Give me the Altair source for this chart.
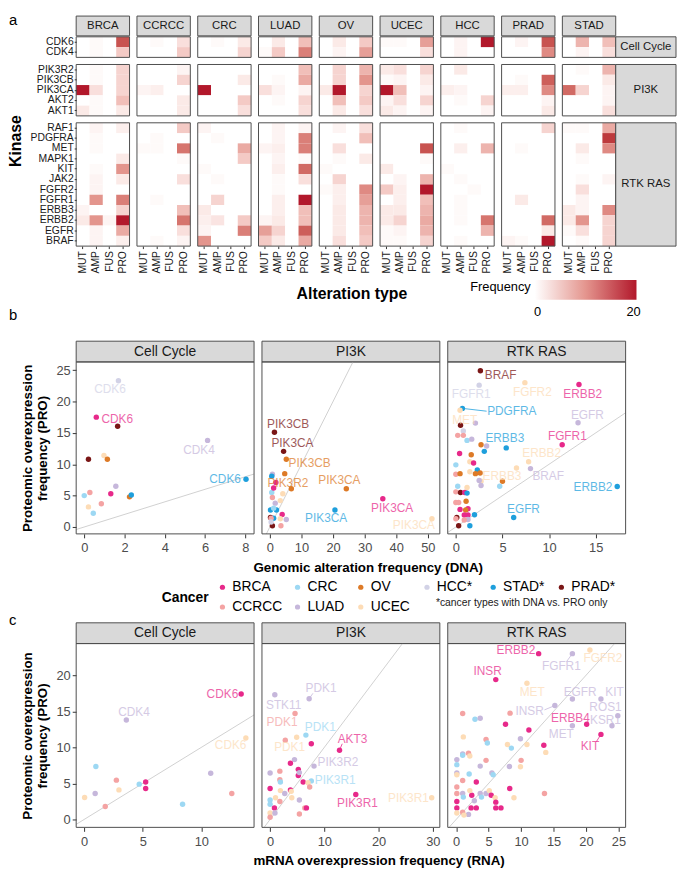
import altair as alt
import pandas as pd

# ------------------------------------------------------------------ data
CANCERS = ["BRCA", "CCRCC", "CRC", "LUAD", "OV", "UCEC", "HCC", "PRAD", "STAD"]
TYPES = ["MUT", "AMP", "FUS", "PRO"]
GENES_CELL = ["CDK6", "CDK4"]
GENES_PI3K = ["PIK3R2", "PIK3CB", "PIK3CA", "AKT2", "AKT1"]
GENES_RTK = ["RAF1", "PDGFRA", "MET", "MAPK1", "KIT", "JAK2", "FGFR2", "FGFR1",
             "ERBB3", "ERBB2", "EGFR", "BRAF"]
NA = None

# rows follow GENES_CELL + GENES_PI3K + GENES_RTK, columns MUT, AMP, FUS, PRO
BRCA_HEAT = [[0, .5, 0, 16], [0, .5, 0, 5],
             [0, .5, 0, 4], [0, .5, 0, 4], [20, 3, 0, 4], [0, .5, 0, 6], [2, .5, 0, 2],
             [0, 1, 0, 1.5], [0, .5, 0, NA], [0, .5, 0, NA], [0, 0, 0, 2], [0, .5, 0, 10], [0, 1, 0, 2],
             [0, 1, 0, NA], [0, 10, 0, 12], [1, 0, 0, 4], [2, 10, 1, 20], [0, 1, 0, 8], [0, 1, 0, 1.5]]
CCRCC_HEAT = [[0, .5, 0, 3], [0, 0, 0, 5],
              [0, 0, 0, 1], [0, 0, 0, 4], [1, 1.5, 0, 0], [0, 0, 0, 2], [0, 0, 0, 2],
              [0, 0, 0, 5], [0, .5, 0, NA], [.5, .5, 0, 13], [0, 0, 0, .5], [0, 0, 0, NA], [0, 0, 0, 3],
              [0, 0, 0, NA], [0, .5, 0, NA], [0, 0, 0, 6], [0, 0, 0, 13], [0, 0, 0, 3], [0, .5, 0, 1]]
CRC_HEAT = [[0, .5, 0, 2], [0, 0, 0, 4],
            [0, 0, 0, NA], [0, 0, 0, 2], [20, 0, 0, NA], [0, 0, 0, 5], [0, 0, 0, 3],
            [1, 0, 0, NA], [0, .5, 0, NA], [0, 0, 0, 8], [0, 0, 0, 5], [.5, 0, 0, NA], [0, .5, 0, NA],
            [0, 0, 0, NA], [0, 4, 0, NA], [2, 0, 0, NA], [1.5, 2.5, 0, 5], [1, 0, 0, 12], [10, 0, 0, NA]]
LUAD_HEAT = [[0, 2, 0, 6], [.5, 5, 0, 12],
             [0, 0, 0, 6], [0, .5, 0, 8], [3, 1, 0, 1], [0, .5, 0, 4], [0, 0, 0, 3],
             [0, 1, 0, 1], [0, 1, 0, 12], [1, 1.5, 0, 12], [0, 1, 0, .5], [0, 1.5, 0, 14], [0, .5, 0, 3],
             [0, .5, 0, NA], [0, 1.5, 0, 20], [0, 1.5, 0, 6], [1, 2, 0, 6], [9, 4, 0, 15], [5, 2, 0, 8]]
OV_HEAT = [[0, 2, 0, 5], [0, 1, 0, 9],
           [0, 4, 0, 7], [0, 4, 0, 10], [2, 20, 0, 4], [0, 6, 0, 5], [0, 2, 0, 3],
           [0, 1, 0, 3], [0, 0, 0, 6], [0, 3, 0, NA], [0, .5, 0, 2], [.5, 0, 0, NA], [0, 4, 0, NA],
           [.5, 1.5, 0, 11], [0, 1.5, 0, 9], [0, 2, 0, 7], [0, 2, 0, 7], [0, 2, 0, 6], [0, 3, 0, 5]]
UCEC_HEAT = [[.5, .5, 0, 9], [0, 0, 0, 3],
             [2, 3, 0, 4], [.5, 1, 0, 2], [20, 6, 0, 1], [1, 3, 0, 4], [2, 1, 0, 1],
             [0, 0, 0, 0], [0, 0, 0, NA], [0, 0, 0, 16], [0, 0, 0, .5], [2, 0, 0, NA], [0, 1, 0, 7],
             [5, 1.5, 0, 20], [0, 1.5, 0, 6], [2, 2, 0, 7], [2, 4, 0, 8], [.5, 1, 0, 7], [.5, .5, 0, 4]]
HCC_HEAT = [[0, 1, 0, 20], [0, 1, 0, NA],
            [0, 2, 0, NA], [0, 0, 0, NA], [1.5, 1, 0, NA], [0, .5, 0, 4], [0, 0, 0, 1],
            [0, .5, 0, NA], [0, 0, 0, NA], [0, 1.5, 0, 7], [0, 0, 0, 0], [.5, 0, 0, NA], [0, .5, 0, NA],
            [0, 0, .5, NA], [0, .5, 0, NA], [0, .5, 0, NA], [0, .5, 0, 13], [0, 0, 0, 7], [0, .5, 0, NA]]
PRAD_HEAT = [[0, 1, 0, 16], [0, 0, 0, 11],
             [0, 0, 0, NA], [0, .5, 0, 15], [1.5, 1.5, 0, 11], [0, 0, 0, 1], [0, 0, 0, 2],
             [0, 0, 0, 4], [0, 0, 0, NA], [0, .5, 0, NA], [0, 0, 0, 0], [0, 0, 0, NA], [0, 0, 0, NA],
             [0, 0, 0, NA], [0, 2, 0, NA], [0, 0, 0, NA], [0, 0, 0, 14], [0, 0, 0, 2], [1, .5, 0, 20]]
STAD_HEAT = [[0, 7, 0, 6], [0, 1, 0, 3],
             [0, .5, 0, 7], [0, 0, 0, 2], [14, 4, 0, 1], [0, 0, 0, 1], [0, 0, 0, 3],
             [.5, .5, 0, 8], [0, 0, 0, 18], [0, 2, 0, 11], [0, .5, 0, 0], [0, 0, 0, NA], [0, .5, 0, 1],
             [0, 3, 0, NA], [0, 1, 0, NA], [2, 1, 0, 11], [2, 10, 0, 4], [.5, 3, 0, 4], [0, .5, 0, 4]]

# scatter points: (cancer, x, y)   labels: (cancer, gene, label x, label y)
B_CELL_POINTS = [("HCC", 1.70, 23.3), ("BRCA", 0.60, 17.5), ("PRAD", 1.66, 16.05), ("LUAD", 6.13, 13.8),
                 ("PRAD", 0.21, 10.8), ("UCEC", 0.98, 11.4), ("OV", 1.15, 10.8), ("STAD", 8.04, 7.6),
                 ("LUAD", 1.57, 6.5), ("CCRCC", 0.28, 5.5), ("CRC", 0.0, 5.0), ("BRCA", 1.32, 5.3),
                 ("OV", 2.25, 4.8), ("STAD", 2.34, 5.1), ("CCRCC", 0.85, 3.7), ("UCEC", 0.21, 3.2),
                 ("CRC", 0.45, 2.2)]
B_CELL_LABELS = [("HCC", "CDK6", 1.28, 21.95), ("BRCA", "CDK6", 1.64, 17.2),
                 ("LUAD", "CDK4", 5.7, 12.3), ("STAD", "CDK6", 7.0, 7.6)]
B_CELL_SEGS = []

B_PI3K_POINTS = [("PRAD", 1.45, 15.1), ("PRAD", 4.35, 12.05), ("OV", 5.2, 10.8), ("OV", 4.7, 8.5),
                 ("LUAD", 0.8, 8.4), ("STAD", 0.6, 8.1), ("BRCA", 1.9, 7.1), ("OV", 6.8, 6.1),
                 ("OV", 24.2, 6.1), ("BRCA", 35.75, 4.5), ("STAD", 20.6, 2.7), ("UCEC", 51.3, 1.3),
                 ("CRC", 0.6, 5.5), ("BRCA", 1.2, 6.2), ("CCRCC", 0.8, 4.7), ("UCEC", 4.1, 5.3),
                 ("LUAD", 1.7, 3.8), ("UCEC", 3.3, 4.2), ("STAD", 0.2, 2.7), ("STAD", 2.1, 2.7),
                 ("CRC", 1.2, 3.0), ("BRCA", 3.9, 2.0), ("PRAD", 0.2, 1.5), ("STAD", 1.2, 1.4),
                 ("CCRCC", 0.4, 1.4), ("UCEC", 3.3, 1.3), ("LUAD", 5.2, 1.2), ("PRAD", 0.8, 0.2),
                 ("CCRCC", 3.5, 0.2), ("HCC", 0.4, 0.8)]
B_PI3K_LABELS = [("PRAD", "PIK3CB", 5.8, 16.45), ("PRAD", "PIK3CA", 7.15, 13.35), ("OV", "PIK3CB", 12.6, 10.2),
                 ("OV", "PIK3R2", 5.7, 7.0), ("OV", "PIK3CA", 22.0, 7.45), ("BRCA", "PIK3CA", 38.7, 3.0),
                 ("STAD", "PIK3CA", 17.8, 1.4), ("UCEC", "PIK3CA", 45.6, 0.35)]
B_PI3K_SEGS = []

B_RTK_POINTS = [("PRAD", 2.63, 24.9), ("HCC", 2.5, 22.6), ("UCEC", 7.4, 23.0), ("BRCA", 13.2, 22.7),
                ("STAD", 0.7, 18.9), ("UCEC", 0.45, 18.6), ("LUAD", 13.1, 16.6), ("PRAD", 0.5, 16.2),
                ("LUAD", 2.1, 16.55), ("HCC", 0.8, 15.3), ("CCRCC", 0.2, 14.6), ("CCRCC", 0.8, 14.6),
                ("CRC", 1.2, 13.8), ("LUAD", 1.7, 14.0), ("BRCA", 11.4, 13.1), ("OV", 2.7, 13.1),
                ("LUAD", 3.3, 12.9), ("STAD", 5.4, 12.6), ("STAD", 3.05, 12.05), ("BRCA", 0.4, 11.7),
                ("OV", 1.65, 11.5), ("UCEC", 1.5, 10.4), ("BRCA", 1.9, 10.2), ("UCEC", 7.8, 10.4),
                ("UCEC", 6.5, 9.4), ("LUAD", 8.0, 9.3), ("CRC", 0.0, 9.9), ("UCEC", 1.5, 8.8),
                ("CCRCC", 0.0, 8.4), ("OV", 0.45, 8.5), ("STAD", 2.3, 9.1), ("OV", 2.1, 8.5),
                ("OV", 2.6, 8.6), ("UCEC", 2.7, 7.3), ("OV", 5.0, 7.3), ("LUAD", 2.5, 7.4),
                ("LUAD", 2.7, 6.6), ("CRC", 4.7, 6.5), ("STAD", 17.3, 6.45), ("CRC", 0.2, 6.5),
                ("UCEC", 1.2, 6.3), ("CCRCC", 0.0, 5.6), ("PRAD", 0.5, 5.5), ("BRCA", 0.95, 5.5),
                ("STAD", 1.2, 5.4), ("OV", 1.1, 4.1), ("CCRCC", 0.0, 3.9), ("CCRCC", 0.3, 3.9),
                ("BRCA", 0.45, 2.8), ("BRCA", 1.3, 2.9), ("OV", 1.05, 2.7), ("STAD", 6.2, 1.5),
                ("STAD", 2.0, 1.95), ("BRCA", 0.9, 1.9), ("BRCA", 1.3, 1.9), ("PRAD", 0.1, 1.5),
                ("CCRCC", 0.0, 1.3), ("LUAD", 1.3, 1.2), ("PRAD", 0.3, 0.2), ("STAD", 1.5, 0.2),
                ("CCRCC", 0.9, 1.1)]
B_RTK_LABELS = [("PRAD", "BRAF", 4.8, 24.2), ("HCC", "FGFR1", 1.65, 21.2), ("UCEC", "FGFR2", 8.2, 21.5),
                ("BRCA", "ERBB2", 13.6, 21.2), ("STAD", "PDGFRA", 6.0, 18.4), ("UCEC", "MET", 0.95, 17.1),
                ("LUAD", "EGFR", 14.1, 17.85), ("BRCA", "FGFR1", 11.95, 14.5), ("STAD", "ERBB3", 5.25, 14.2),
                ("UCEC", "ERBB2", 9.2, 11.8), ("UCEC", "ERBB3", 4.95, 8.05), ("LUAD", "BRAF", 9.9, 8.15),
                ("STAD", "ERBB2", 14.7, 6.35), ("STAD", "EGFR", 7.25, 2.9)]
B_RTK_SEGS = [("STAD", 0.7, 18.9, 3.3, 18.45)]

C_CELL_POINTS = [("BRCA", 13.4, 17.4), ("LUAD", 3.6, 13.8), ("UCEC", 13.8, 11.3), ("CRC", 1.0, 7.35),
                 ("LUAD", 10.8, 6.4), ("CCRCC", 2.75, 5.45), ("CRC", 4.7, 4.9), ("BRCA", 5.25, 5.2),
                 ("BRCA", 5.25, 4.3), ("UCEC", 2.97, 4.1), ("LUAD", 0.94, 3.6), ("CCRCC", 12.6, 3.6),
                 ("UCEC", 0.04, 3.05), ("CCRCC", 1.8, 1.8), ("CRC", 8.4, 2.1)]
C_CELL_LABELS = [("BRCA", "CDK6", 11.8, 17.4), ("LUAD", "CDK4", 4.25, 14.9), ("UCEC", "CDK6", 12.5, 10.35)]
C_CELL_SEGS = []

C_PI3K_POINTS = [("LUAD", 0.87, 17.3), ("LUAD", 7.2, 16.75), ("CCRCC", 4.6, 14.7), ("CRC", 6.6, 11.7),
                 ("UCEC", 4.9, 11.4), ("CCRCC", 2.8, 11.0), ("BRCA", 7.6, 10.5), ("BRCA", 12.8, 9.6),
                 ("LUAD", 4.5, 8.3), ("BRCA", 3.75, 7.8), ("LUAD", 8.1, 7.4), ("BRCA", 5.2, 6.95),
                 ("BRCA", 5.2, 6.1), ("LUAD", 5.4, 6.5), ("LUAD", 0.0, 6.45), ("CCRCC", 1.8, 6.7),
                 ("CRC", 7.6, 5.35), ("BRCA", 6.1, 5.2), ("UCEC", 7.0, 5.1), ("CCRCC", 7.3, 4.5),
                 ("CCRCC", 1.8, 5.5), ("CRC", 1.9, 5.2), ("BRCA", 0.0, 4.3), ("BRCA", 3.75, 4.1),
                 ("UCEC", 3.9, 3.9), ("UCEC", 1.9, 4.0), ("LUAD", 2.7, 3.6), ("BRCA", 15.8, 3.45),
                 ("UCEC", 29.8, 3.0), ("UCEC", 4.0, 3.0), ("UCEC", 1.0, 3.0), ("CRC", 0.0, 2.7),
                 ("LUAD", 5.4, 2.7), ("CCRCC", 1.8, 2.5), ("CRC", 0.0, 2.1), ("BRCA", 0.8, 1.6),
                 ("CCRCC", 6.4, 1.6), ("BRCA", 6.7, 1.6), ("UCEC", 0.0, 0.9), ("CCRCC", 5.4, 0.75),
                 ("LUAD", 0.9, 0.9), ("CCRCC", 0.0, 0.3)]
C_PI3K_LABELS = [("LUAD", "STK11", 2.5, 15.9), ("LUAD", "PDK1", 9.4, 18.25), ("CCRCC", "PDK1", 2.2, 13.5),
                 ("CRC", "PDK1", 9.25, 12.8), ("UCEC", "PDK1", 3.6, 10.0), ("BRCA", "AKT3", 15.2, 11.2),
                 ("LUAD", "PIK3R2", 12.5, 7.95), ("CRC", "PIK3R1", 12.0, 5.4), ("BRCA", "PIK3R1", 16.1, 2.25),
                 ("UCEC", "PIK3R1", 25.5, 3.0)]
C_PI3K_SEGS = [("LUAD", 7.2, 16.75, 7.9, 17.5), ("BRCA", 12.8, 9.6, 13.3, 10.5)]

C_RTK_POINTS = [("BRCA", 12.7, 23.0), ("LUAD", 17.9, 23.0), ("UCEC", 20.6, 23.5), ("BRCA", 6.1, 19.4),
                ("UCEC", 10.9, 18.9), ("LUAD", 17.9, 16.7), ("LUAD", 22.3, 16.7), ("LUAD", 15.2, 15.8),
                ("LUAD", 24.9, 14.4), ("LUAD", 24.0, 13.0), ("CCRCC", 1.0, 14.7), ("CRC", 2.9, 13.9),
                ("LUAD", 3.7, 14.05), ("CCRCC", 8.3, 14.75), ("BRCA", 7.6, 13.2), ("BRCA", 20.1, 13.2),
                ("LUAD", 17.9, 13.0), ("BRCA", 11.2, 12.4), ("BRCA", 22.3, 11.8), ("UCEC", 1.1, 11.45),
                ("LUAD", 9.9, 11.2), ("CCRCC", 4.6, 11.1), ("CRC", 4.8, 10.6), ("UCEC", 7.9, 10.4),
                ("UCEC", 10.9, 10.4), ("CRC", 8.5, 9.9), ("BRCA", 13.5, 10.3), ("UCEC", 13.8, 9.3),
                ("LUAD", 1.0, 9.1), ("CRC", 1.0, 8.9), ("CCRCC", 1.9, 9.2), ("UCEC", 2.1, 8.8),
                ("LUAD", 0.1, 8.3), ("CRC", 0.1, 7.6), ("LUAD", 3.7, 7.4), ("CCRCC", 4.6, 8.2),
                ("LUAD", 8.2, 7.35), ("UCEC", 9.9, 7.3), ("CCRCC", 10.0, 8.2), ("LUAD", 0.1, 6.45),
                ("UCEC", 0.1, 6.2), ("CRC", 2.0, 6.3), ("LUAD", 5.5, 6.45), ("CRC", 5.7, 6.2),
                ("CCRCC", 1.0, 5.4), ("BRCA", 3.1, 5.2), ("CCRCC", 0.1, 4.5), ("BRCA", 8.25, 4.3),
                ("CCRCC", 0.1, 3.6), ("LUAD", 1.0, 3.6), ("BRCA", 2.4, 3.35), ("UCEC", 2.1, 4.0),
                ("LUAD", 3.7, 3.6), ("LUAD", 4.6, 3.6), ("UCEC", 5.1, 4.0), ("BRCA", 5.4, 3.35),
                ("CCRCC", 13.6, 3.6), ("UCEC", 8.9, 3.0), ("CRC", 1.1, 3.1), ("CRC", 3.9, 3.1),
                ("BRCA", 0.1, 2.5), ("LUAD", 2.8, 2.6), ("UCEC", 6.0, 3.0), ("BRCA", 6.1, 2.4),
                ("BRCA", 0.1, 1.6), ("BRCA", 2.3, 1.6), ("BRCA", 3.1, 1.6), ("BRCA", 6.1, 1.6),
                ("BRCA", 6.9, 1.6), ("UCEC", 0.1, 0.9), ("CCRCC", 1.0, 1.0), ("LUAD", 1.9, 0.7),
                ("UCEC", 1.2, 0.6)]
C_RTK_LABELS = [("BRCA", "ERBB2", 9.2, 23.45), ("LUAD", "FGFR1", 16.2, 21.25), ("UCEC", "FGFR2", 22.6, 22.35),
                ("BRCA", "INSR", 4.85, 20.6), ("UCEC", "MET", 11.7, 17.7), ("LUAD", "EGFR", 19.1, 17.7),
                ("LUAD", "KIT", 24.4, 17.7), ("LUAD", "INSR", 11.3, 15.05), ("LUAD", "ROS1", 23.0, 15.6),
                ("LUAD", "KSR1", 23.0, 13.8), ("BRCA", "ERBB4", 17.6, 14.1), ("LUAD", "MET", 16.2, 11.8),
                ("BRCA", "KIT", 20.6, 10.2)]
C_RTK_SEGS = [("LUAD", 17.9, 23.0, 17.0, 21.9), ("LUAD", 15.2, 15.8, 13.6, 15.2),
              ("BRCA", 22.3, 11.8, 21.6, 10.8)]

FREQ_TICKS = [0, 20]
B_X_TICKS = [[0, 2, 4, 6, 8], [0, 10, 20, 30, 40, 50], [0, 5, 10, 15]]
C_X_TICKS = [[0, 5, 10], [0, 10, 20, 30], [0, 5, 10, 15, 20, 25]]
B_Y_TICKS = [0, 5, 10, 15, 20, 25]
C_Y_TICKS = [0, 5, 10, 15, 20]

# ------------------------------------------------------------------ style
FONT = "Liberation Sans"
CANCER_COLORS = {"BRCA": "#E7298A", "CCRCC": "#F4A3A3", "CRC": "#9DD8F3", "LUAD": "#C6B7DB",
                 "OV": "#DD7A27", "UCEC": "#FDDCB6", "HCC": "#D2D2E6", "STAD": "#1E9FDC",
                 "PRAD": "#7A1616"}
DNA_ONLY = ["HCC", "STAD", "PRAD"]
LEGEND_ORDER = ["BRCA", "CRC", "OV", "HCC", "STAD", "PRAD", "CCRCC", "LUAD", "UCEC"]
LEG_COL_X = [148, 224, 288, 355, 422, 491]   # legend column offsets (px, from c panel left)
LEG_ROW_Y = [-57, -37]                       # legend row offsets (px, from c panel top)
NA_COLOR = "#C8C8C8"
BORDER = "#4D4D4D"
STRIP_FILL = "#D9D9D9"
HEAT_LOW, HEAT_MID, HEAT_HIGH = "#FFFFFF", "#E4958E", "#B2182B"
PW = 54
ROW_H = 10.4
SW = 180


def legend_name(c):
    return c + "*" if c in DNA_ONLY else c


HEAT = {"BRCA": BRCA_HEAT, "CCRCC": CCRCC_HEAT, "CRC": CRC_HEAT, "LUAD": LUAD_HEAT, "OV": OV_HEAT,
        "UCEC": UCEC_HEAT, "HCC": HCC_HEAT, "PRAD": PRAD_HEAT, "STAD": STAD_HEAT}
GROUPS = [("Cell Cycle", GENES_CELL), ("PI3K", GENES_PI3K), ("RTK RAS", GENES_RTK)]


def one(label):
    return alt.Chart(pd.DataFrame({"label": [label]}))


def txt(label, x, y, **kw):
    return one(label).mark_text(**kw).encode(x=alt.value(x), y=alt.value(y), text="label:N")


# ------------------------------------------------------------------ heatmap (a)
def heat_cell(ci, cancer, gi):
    pathway, genes = GROUPS[gi]
    offset = sum(len(g) for _, g in GROUPS[:gi])
    rows = HEAT[cancer][offset:offset + len(genes)]
    recs = []
    for gene, vals in zip(genes, rows):
        for t, v in zip(TYPES, vals):
            recs.append({"gene": gene, "type": t, "value": v})
    df = pd.DataFrame(recs)
    h = len(genes) * ROW_H
    first = ci == 0
    bottom = gi == len(GROUPS) - 1

    if bottom:
        xaxis = alt.Axis(labelAngle=270, labelAlign="right", labelBaseline="middle", labelFontSize=10.5,
                         labelColor="#1A1A1A", tickSize=2.5, tickColor="#333333", domain=False,
                         labelPadding=2, title=None)
    else:
        xaxis = None
    if first:
        ykw = dict(labelFontSize=10.5, labelColor="#1A1A1A", tickSize=2, tickColor="#333333",
                   domain=False, labelPadding=1, title=None)
        if bottom:
            ykw.update(title="Kinase", titleFontSize=16, titleFontWeight="bold", titleColor="black",
                       titleX=-53, titleY=18)
        yaxis = alt.Axis(**ykw)
    else:
        yaxis = None

    rect = alt.Chart(df).mark_rect().encode(
        x=alt.X("type:N", scale=alt.Scale(domain=TYPES), axis=xaxis),
        y=alt.Y("gene:N", scale=alt.Scale(domain=genes), axis=yaxis),
        color=alt.condition("!isValid(datum.value)", alt.value(NA_COLOR),
                            alt.Color("value:Q", scale=alt.Scale(type="linear", domain=[0, 20],
                                                                 range=[HEAT_LOW, HEAT_HIGH],
                                                                 interpolate="lab", clamp=True,
                                                                 nice=False, zero=False),
                                      legend=None)),
    )
    layers = [rect]
    layers.append(one("b").mark_rect(fillOpacity=0, stroke=BORDER, strokeWidth=1).encode(
        x=alt.value(0), x2=alt.value(PW), y=alt.value(0), y2=alt.value(h)))
    if gi == 0:
        hdr = one(cancer)
        layers.append(hdr.mark_rect(fill=STRIP_FILL, stroke=BORDER, strokeWidth=1).encode(
            x=alt.value(0), x2=alt.value(PW), y=alt.value(-21), y2=alt.value(-1)))
        layers.append(txt(cancer, PW / 2, -11, fontSize=11.5, color="#1A1A1A"))
    if ci == len(CANCERS) - 1:
        rs = one(pathway)
        layers.append(rs.mark_rect(fill=STRIP_FILL, stroke=BORDER, strokeWidth=1).encode(
            x=alt.value(PW), x2=alt.value(PW + 61), y=alt.value(0), y2=alt.value(h)))
        layers.append(txt(pathway, PW + 30.5, h / 2, fontSize=11.5, color="#1A1A1A"))
    if ci == 0 and gi == 0:
        layers.append(txt("a", -68, -24, fontSize=15, align="left", baseline="top", color="black"))
    return alt.layer(*layers).properties(width=PW, height=h)


cells = [heat_cell(ci, c, gi) for gi in range(len(GROUPS)) for ci, c in enumerate(CANCERS)]
heat = alt.concat(*cells, columns=len(CANCERS), spacing={"row": 7, "column": 7.5},
                  bounds="flush").resolve_scale(x="independent", y="independent")


# ------------------------------------------------------------------ scatter panels (b, c)
def pts_df(points):
    return pd.DataFrame({"hex": [CANCER_COLORS[p[0]] for p in points],
                         "x": [p[1] for p in points], "y": [p[2] for p in points]})


def scatter_panel(points, labels, segs, xdom, xticks, ydom, yticks, height, strip,
                  ytitle=None, xtitle=None, xtitle_x=None, extras=()):
    xs = alt.Scale(domain=xdom, nice=False, zero=False)
    ys = alt.Scale(domain=ydom, nice=False, zero=False)
    xkw = dict(values=xticks, format="d", labelFontSize=13, labelColor="#4D4D4D", tickSize=4,
               tickColor="#333333", domain=False, grid=False, labelPadding=4, labelFlush=False,
               title=None)
    if xtitle:
        xkw.update(title=xtitle, titleFontSize=13.5, titleFontWeight="bold", titleColor="black",
                   titlePadding=6, titleX=xtitle_x)
    xax = alt.Axis(**xkw)
    if ytitle:
        yax = alt.Axis(values=yticks, format="d", labelFontSize=13, labelColor="#4D4D4D", tickSize=4,
                       tickColor="#333333", domain=False, grid=False, labelPadding=2, title=ytitle,
                       titleFontSize=13.5, titleFontWeight="bold", titleColor="black", titleX=-42,
                       titleLineHeight=15)
    else:
        yax = None

    def X(f):
        return alt.X(f, type="quantitative", scale=xs, axis=xax)

    def Y(f):
        return alt.Y(f, type="quantitative", scale=ys, axis=yax)

    layers = []
    layers.append(one(strip).mark_rect(fill=STRIP_FILL, stroke=BORDER, strokeWidth=1).encode(
        x=alt.value(0), x2=alt.value(SW), y=alt.value(-21), y2=alt.value(0)))
    layers.append(txt(strip, SW / 2, -10.5, fontSize=14, color="#1A1A1A"))
    lo, hi = -5, 60
    layers.append(alt.Chart(pd.DataFrame({"x": [lo, hi], "y": [lo, hi]})).mark_line(
        clip=True, color="#D0D0D0", strokeWidth=1).encode(x=X("x"), y=Y("y")))
    if segs:
        sdf = pd.DataFrame({"hex": [CANCER_COLORS[s[0]] for s in segs], "x": [s[1] for s in segs],
                            "y": [s[2] for s in segs], "x2": [s[3] for s in segs],
                            "y2": [s[4] for s in segs]})
        layers.append(alt.Chart(sdf).mark_rule(strokeWidth=1, opacity=0.8).encode(
            x=X("x"), y=Y("y"), x2="x2:Q", y2="y2:Q", stroke=alt.Stroke("hex:N", scale=None)))
    layers.append(alt.Chart(pts_df(points)).mark_circle(size=30, opacity=1).encode(
        x=X("x"), y=Y("y"), fill=alt.Fill("hex:N", scale=None)))
    ldf = pd.DataFrame({"hex": [CANCER_COLORS[l[0]] for l in labels], "gene": [l[1] for l in labels],
                        "x": [l[2] for l in labels], "y": [l[3] for l in labels]})
    layers.append(alt.Chart(ldf).mark_text(fontSize=12, opacity=0.72).encode(
        x=X("x"), y=Y("y"), text="gene:N", fill=alt.Fill("hex:N", scale=None)))
    layers.append(one("border").mark_rect(fillOpacity=0, stroke=BORDER, strokeWidth=1).encode(
        x=alt.value(0), x2=alt.value(SW), y=alt.value(0), y2=alt.value(height)))
    layers.extend(extras)
    return alt.layer(*layers).properties(width=SW, height=height)


YT = ["Proteomic overexpression", "frequency (PRO)"]
HB, HC = 174, 186
B_YDOM, C_YDOM = [-1.1, 26.3], [-1.1, 24.4]

# extras placed in the b block: section letter, heatmap x title, frequency colour bar
b_first_extras = [
    txt("b", -68, -54, fontSize=15, align="left", baseline="top", color="black"),
    txt("Alteration type", 279, -69, fontSize=16, fontWeight="bold", color="black"),
]
freq_bar = [
    one("Frequency").mark_rect(fill=alt.Gradient(
        gradient="linear", x1=0, x2=1, y1=0, y2=0,
        stops=[alt.GradientStop(offset=0, color=HEAT_LOW), alt.GradientStop(offset=0.5, color=HEAT_MID),
               alt.GradientStop(offset=1, color=HEAT_HIGH)])
    ).encode(x=alt.value(88), x2=alt.value(191), y=alt.value(-83), y2=alt.value(-63)),
    txt("Frequency", 84, -76, fontSize=13, align="right", color="black"),
    txt(str(FREQ_TICKS[0]), 91, -50, fontSize=13, color="black"),
    txt(str(FREQ_TICKS[1]), 188, -50, fontSize=13, color="black"),
]

# cancer legend (drawn in the c block, above the panels)
legend_layers = [txt("c", -68, -31, fontSize=15, align="left", baseline="top", color="black"),
                 txt("Cancer", 134, -46, fontSize=14, fontWeight="bold", align="right", color="black"),
                 txt("*cancer types with DNA vs. PRO only", 364, -41, fontSize=10.5, align="left",
                     color="#1A1A1A")]
for i, c in enumerate(LEGEND_ORDER):
    lx, ly = LEG_COL_X[i % 6], LEG_ROW_Y[i // 6]
    legend_layers.append(one(c).mark_circle(size=28, opacity=1, color=CANCER_COLORS[c]).encode(
        x=alt.value(lx), y=alt.value(ly)))
    legend_layers.append(txt(legend_name(c), lx + 10, ly, fontSize=14, align="left", color="black"))

bblock = alt.hconcat(
    scatter_panel(B_CELL_POINTS, B_CELL_LABELS, B_CELL_SEGS, [-0.4, 8.44], B_X_TICKS[0], B_YDOM,
                  B_Y_TICKS, HB, "Cell Cycle", ytitle=YT, extras=b_first_extras),
    scatter_panel(B_PI3K_POINTS, B_PI3K_LABELS, B_PI3K_SEGS, [-2.5, 53.8], B_X_TICKS[1], B_YDOM,
                  B_Y_TICKS, HB, "PI3K", xtitle="Genomic alteration frequency (DNA)", xtitle_x=107),
    scatter_panel(B_RTK_POINTS, B_RTK_LABELS, B_RTK_SEGS, [-0.87, 18.2], B_X_TICKS[2], B_YDOM,
                  B_Y_TICKS, HB, "RTK RAS", extras=freq_bar),
    spacing=8, bounds="flush").resolve_scale(x="independent", y="independent")

cblock = alt.hconcat(
    scatter_panel(C_CELL_POINTS, C_CELL_LABELS, C_CELL_SEGS, [-0.68, 14.5], C_X_TICKS[0], C_YDOM,
                  C_Y_TICKS, HC, "Cell Cycle", ytitle=YT, extras=legend_layers),
    scatter_panel(C_PI3K_POINTS, C_PI3K_LABELS, C_PI3K_SEGS, [-1.5, 31.3], C_X_TICKS[1], C_YDOM,
                  C_Y_TICKS, HC, "PI3K", xtitle="mRNA overexpression frequency (RNA)", xtitle_x=118),
    scatter_panel(C_RTK_POINTS, C_RTK_LABELS, C_RTK_SEGS, [-1.3, 26.1], C_X_TICKS[2], C_YDOM,
                  C_Y_TICKS, HC, "RTK RAS"),
    spacing=8, bounds="flush").resolve_scale(x="independent", y="independent")

chart = alt.vconcat(heat, bblock, cblock, spacing=6).properties(padding=0).configure(
    font=FONT).configure_view(strokeWidth=0)

chart.save("out.html", embed_options={"renderer": "svg", "actions": False})
